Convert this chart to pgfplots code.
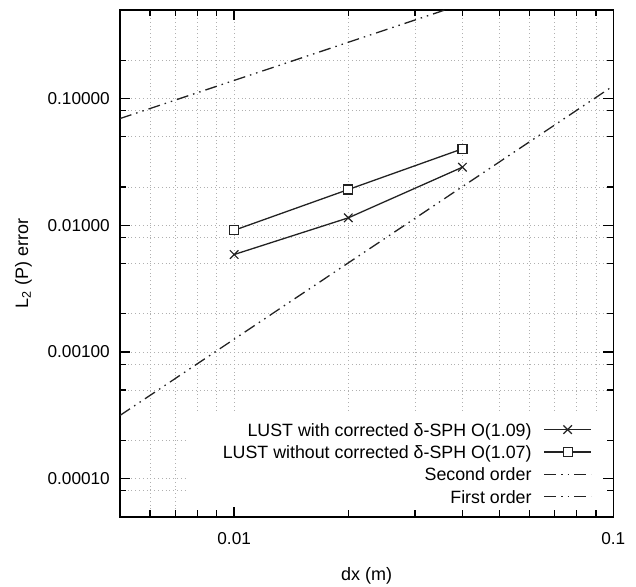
\documentclass[border=0pt]{standalone}
\usepackage{fontspec}
\setmainfont{Liberation Sans}
\usepackage{pgfplots}
\pgfplotsset{compat=1.18}
\pgfplotsset{
  layers/mylayers/.define layer set={
    axis background,axis grid,legendbg,axis ticks,axis lines,axis tick labels,pre main,main,axis descriptions,axis foreground
  }{
    grid style={/pgfplots/on layer=axis grid},
    tick style={/pgfplots/on layer=axis ticks},
    axis line style={/pgfplots/on layer=axis lines},
    label style={/pgfplots/on layer=axis descriptions},
    legend style={/pgfplots/on layer=axis descriptions},
    title style={/pgfplots/on layer=axis descriptions},
    ticklabel style={/pgfplots/on layer=axis tick labels},
  },
}
\definecolor{lc}{HTML}{222222}
\definecolor{gc}{HTML}{B0B0B0}
\begin{document}
\begin{tikzpicture}
\begin{axis}[
  set layers=mylayers,
  at={(0pt,0pt)}, anchor=south west,
  scale only axis, width=493.3pt, height=506.7pt,
  xmode=log, ymode=log,
  xmin=0.005, xmax=0.1, ymin=5e-5, ymax=0.5,
  xtick={0.01,0.1}, xticklabels={0.01,0.1},
  minor xtick={0.006,0.007,0.008,0.009,0.02,0.03,0.04,0.05,0.06,0.07,0.08,0.09},
  ytick={1e-4,1e-3,1e-2,1e-1}, yticklabels={0.00010,0.00100,0.01000,0.10000},
  minor ytick={8e-5,2e-4,5e-4,8e-4,2e-3,5e-3,8e-3,2e-2,5e-2,8e-2,2e-1},
  grid=both,
  grid style={gc, line width=0.7pt, dash pattern=on 0.8pt off 3pt},
  tick align=inside,
  major tick length=10pt, minor tick length=6.5pt,
  tick style={black, line width=1.3pt, solid},
  axis line style={black, line width=1.6pt},
  font=\fontsize{18}{21}\selectfont,
  tick label style={font=\fontsize{17.2}{20}\selectfont},
  xticklabel style={anchor=north, inner sep=0pt, yshift=-16pt},
  yticklabel style={anchor=east, inner sep=0pt, xshift=-10pt},
  xlabel={dx (m)},
  ylabel={L\textsubscript{2} (P) error},
  xlabel style={at={(axis description cs:0.5,0)}, anchor=base, inner sep=0pt, yshift=-63.7pt},
  ylabel style={at={(axis description cs:-0.1865,0.5)}, anchor=base, inner sep=0pt},
  legend style={
    at={(axis description cs:1,0)}, anchor=south east,
    xshift=-21.3pt, yshift=13.3pt,
    draw=none, fill=none, inner sep=0pt,
    font=\fontsize{17.8}{20}\selectfont,
    row sep=9.6pt, column sep=12pt,
    nodes={inner sep=0pt, text height=12.8pt, text depth=0pt},
  },
  legend cell align=right,
  legend plot pos=right,
  legend image code/.code={\draw[mark repeat=2,mark phase=2,#1] plot coordinates {(0pt,0pt) (23.5pt,0pt) (47pt,0pt)};},
]
\addplot[forget plot, draw=none, fill=white, on layer=legendbg] coordinates {(0.0075,5e-5) (0.1,5e-5) (0.1,3.3e-4) (0.0075,3.3e-4)} -- cycle;
\addplot[lc, line width=1.3pt, mark=x, mark size=6pt, mark options={solid, line width=1.2pt}]
  coordinates {(0.01,0.00587) (0.02,0.01143) (0.04,0.0287)};
\addlegendentry{LUST with corrected δ-SPH O(1.09)}
\addplot[lc, line width=1.3pt, mark=square*, mark size=4.5pt, mark options={solid, fill=white, line width=1.2pt}]
  coordinates {(0.01,0.00912) (0.02,0.01913) (0.04,0.0401)};
\addlegendentry{LUST without corrected δ-SPH O(1.07)}
\addplot[lc, line width=1.3pt, dash pattern=on 12pt off 5pt on 1.5pt off 5pt on 1.5pt off 5pt]
  coordinates {(0.005,0.000315) (0.1,0.126)};
\addlegendentry{Second order}
\addplot[lc, line width=1.3pt, dash pattern=on 12pt off 5pt on 1.5pt off 5pt on 1.5pt off 5pt]
  coordinates {(0.005,0.0695) (0.05,0.695)};
\addlegendentry{First order}
\end{axis}
\pgfresetboundingbox
\useasboundingbox (-120pt,-69.3pt) rectangle (516pt,516.7pt);
\end{tikzpicture}
\end{document}
